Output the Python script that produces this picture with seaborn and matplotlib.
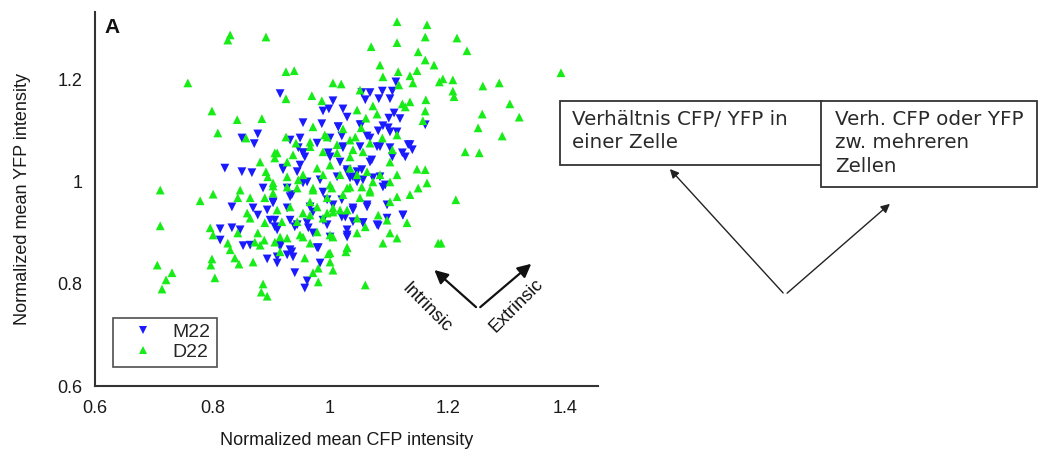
import matplotlib
matplotlib.use("Agg")
import matplotlib.pyplot as plt
import seaborn as sns
import pandas as pd
from matplotlib.patches import Rectangle

# ---------------- data ----------------
m22_x = [0.915, 0.877, 0.850, 0.871,
         1.112, 1.054, 1.068, 1.089, 1.106, 1.060, 1.083, 1.102, 1.005, 0.988, 0.998, 1.022,
         1.029, 1.109, 1.100, 1.119, 0.954, 0.986, 1.014, 1.053, 1.090, 1.082, 1.162, 0.949,
         1.000, 1.020, 1.063, 1.102, 1.133, 0.946, 0.978, 1.022, 1.051, 1.080, 1.102, 1.140,
         0.954,
         0.821, 0.850, 0.867, 0.886, 0.833, 0.869, 0.877, 0.893, 0.903, 0.927, 0.898, 0.906,
         0.813, 0.833, 0.847, 0.813, 0.852, 0.864, 0.893, 0.910, 0.915, 0.927, 0.920, 0.927,
         0.957, 1.000, 1.017, 1.068, 1.128, 0.944, 1.029, 1.046, 1.046, 1.034, 1.073, 1.090,
         0.961, 0.988, 0.935, 1.005, 1.063, 1.097, 1.124, 1.039, 1.026, 0.971, 0.944, 0.995,
         1.056, 1.080, 1.029, 1.000, 1.029, 0.978, 0.935, 0.983, 0.940, 0.961, 0.957, 0.963,
         1.014, 1.051, 1.099, 1.114, 1.136, 1.123, 1.106, 0.932, 0.954, 0.997, 1.022, 1.068,
         1.085, 1.071, 0.920, 0.949, 1.029, 1.039, 1.054, 1.056, 1.012, 0.983, 0.954, 1.085,
         1.094, 0.932, 0.966, 0.995, 1.020, 1.039, 0.903, 1.063, 0.906, 0.932, 0.961, 0.988,
         1.020, 1.039, 1.056, 1.082, 1.097, 1.124, 0.910, 0.940, 0.971, 1.029, 0.915, 0.932,
         0.980, 0.910, 0.937]
m22_y = [1.173, 1.094, 1.086, 1.075,
         1.196, 1.175, 1.175, 1.178, 1.178, 1.161, 1.163, 1.163, 1.159, 1.139, 1.143, 1.143,
         1.127, 1.135, 1.125, 1.124, 1.116, 1.114, 1.108, 1.112, 1.110, 1.100, 1.112, 1.086,
         1.086, 1.090, 1.090, 1.098, 1.073, 1.067, 1.076, 1.067, 1.069, 1.069, 1.067, 1.063,
         1.057,
         1.027, 1.020, 1.018, 0.988, 0.951, 0.949, 0.935, 0.945, 0.959, 0.949, 0.925, 0.912,
         0.908, 0.910, 0.906, 0.886, 0.875, 0.876, 0.849, 0.841, 0.876, 0.857, 1.027, 0.988,
         1.049, 1.049, 1.039, 1.039, 1.049, 1.020, 1.020, 1.020, 1.000, 1.008, 1.008, 0.990,
         1.000, 0.980, 0.975, 0.955, 0.951, 0.955, 0.935, 0.945, 0.931, 0.941, 0.916, 0.916,
         0.920, 0.916, 0.906, 0.892, 0.892, 0.871, 0.863, 0.841, 0.822, 0.806, 0.792, 0.910,
         1.108, 1.112, 1.106, 1.098, 1.073, 1.057, 1.049, 1.082, 1.057, 1.057, 1.069, 1.086,
         1.069, 1.043, 1.024, 1.033, 1.024, 1.010, 1.024, 1.004, 1.010, 1.004, 0.998, 1.010,
         0.994, 0.971, 0.951, 0.965, 0.965, 0.949, 0.961, 0.955, 0.925, 0.925, 0.920, 0.925,
         0.931, 0.922, 0.920, 0.914, 0.929, 0.935, 0.906, 0.912, 0.900, 0.896, 0.873, 0.867,
         0.871, 0.853, 0.853]

d22_x = [0.830, 0.826, 0.891, 0.758, 0.925, 0.925, 0.799, 0.842, 0.884, 0.809, 0.857, 0.925,
         0.906,
         1.114, 1.165, 1.162, 1.114, 1.070, 1.150, 1.162, 1.177, 1.085, 0.939, 1.116, 1.148,
         1.090, 1.136, 1.141, 1.186, 1.005, 1.019, 1.051, 1.117, 0.969, 0.986, 1.163, 1.073,
         1.123, 1.136, 1.128, 1.046, 1.162, 1.080, 1.061, 1.158, 0.971, 0.995, 1.022, 1.053,
         1.089, 1.114, 0.942, 0.966, 1.012, 1.034, 1.068, 0.988, 1.039, 1.106,
         1.216, 1.233, 1.192, 1.209, 1.209, 1.211, 1.260, 1.288, 1.393, 1.306, 1.259, 1.322,
         1.252, 1.293, 1.230, 1.254, 1.214, 1.189,
         0.881, 0.906, 0.927, 0.711, 0.779, 0.801, 0.847, 0.843, 0.864, 0.889, 0.903, 0.891,
         0.894, 0.927, 0.903, 0.711, 0.796, 0.801, 0.843, 0.826, 0.830, 0.859, 0.864, 0.877,
         0.872, 0.881, 0.888, 0.889, 0.918, 0.927, 0.706, 0.731, 0.721, 0.714, 0.799, 0.797,
         0.804, 0.838, 0.845, 0.869, 0.886, 0.883, 0.893, 0.915, 0.906,
         1.148, 1.162, 1.165, 1.150, 1.136, 1.114, 1.102, 1.082, 1.131, 1.097, 1.060, 1.102,
         1.114, 1.090, 1.184, 1.029, 1.027, 0.997, 0.957, 1.000, 0.980, 1.005, 0.971, 0.980,
         1.060, 1.017, 1.005, 1.046, 0.988, 0.966, 0.944, 0.949, 0.978, 1.000, 0.966, 0.995,
         1.022, 1.051, 1.068, 1.073, 1.102, 1.114, 1.085, 1.063, 1.034, 1.000, 0.978, 0.954,
         0.944, 0.971, 1.000, 1.029, 1.054, 1.102, 0.988, 1.017, 1.046,
         0.910, 0.937, 0.966, 0.991, 1.043, 1.012, 1.034, 1.056, 0.903, 0.927, 0.946, 0.971,
         1.003, 1.034, 1.068, 0.932, 0.978, 1.005, 1.029, 0.910, 0.954, 0.995, 0.915, 0.954,
         1.005, 1.046, 0.966, 1.000, 1.029]
d22_y = [1.288, 1.278, 1.284, 1.194, 1.216, 1.163, 1.139, 1.122, 1.124, 1.096, 1.086, 1.088,
         1.057,
         1.314, 1.308, 1.284, 1.273, 1.265, 1.255, 1.239, 1.229, 1.229, 1.218, 1.216, 1.218,
         1.206, 1.208, 1.194, 1.196, 1.194, 1.192, 1.180, 1.190, 1.169, 1.159, 1.161, 1.149,
         1.153, 1.157, 1.147, 1.141, 1.139, 1.133, 1.125, 1.120, 1.108, 1.088, 1.104, 1.106,
         1.086, 1.092, 1.076, 1.069, 1.073, 1.082, 1.076, 1.059, 1.063, 1.063,
         1.282, 1.257, 1.202, 1.200, 1.178, 1.167, 1.188, 1.194, 1.214, 1.153, 1.133, 1.127,
         1.106, 1.090, 1.059, 1.057, 0.965, 0.880,
         1.039, 1.047, 1.039, 0.984, 0.963, 0.976, 0.984, 0.969, 0.969, 0.969, 0.992, 1.020,
         1.010, 1.010, 0.978, 0.914, 0.910, 0.896, 0.900, 0.880, 0.867, 0.939, 0.929, 0.900,
         0.882, 0.876, 0.886, 0.920, 0.922, 0.890, 0.837, 0.822, 0.808, 0.790, 0.849, 0.837,
         0.812, 0.851, 0.839, 0.843, 0.800, 0.784, 0.776, 0.863, 0.882,
         1.025, 1.024, 0.998, 0.988, 0.975, 0.971, 0.961, 0.935, 0.920, 0.925, 0.912, 0.900,
         0.890, 0.880, 0.880, 0.871, 0.863, 0.859, 0.851, 0.843, 0.831, 0.827, 0.822, 0.804,
         0.798, 0.945, 0.941, 0.929, 0.929, 0.935, 0.922, 0.896, 0.902, 0.896, 0.961, 0.969,
         0.975, 0.969, 0.980, 1.000, 1.000, 1.014, 1.014, 1.020, 1.027, 1.033, 1.027, 1.014,
         0.988, 0.988, 0.994, 0.988, 0.990, 1.039, 1.014, 1.014, 1.014,
         1.057, 1.053, 1.078, 1.092, 1.088, 1.057, 1.049, 1.059, 0.998, 0.990, 1.004, 0.984,
         0.988, 0.990, 0.984, 0.951, 0.951, 0.949, 0.945, 0.945, 0.939, 0.939, 0.892, 0.892,
         0.892, 0.900, 0.880, 0.861, 0.871]

strains = ["M22", "D22"]
x_ticks = [0.6, 0.8, 1.0, 1.2, 1.4]
x_tick_labels = ["0.6", "0.8", "1", "1.2", "1.4"]
y_ticks = [0.6, 0.8, 1.0, 1.2]
y_tick_labels = ["0.6", "0.8", "1", "1.2"]
box_texts = ["Verhältnis CFP/ YFP in\neiner Zelle", "Verh. CFP oder YFP\nzw. mehreren\nZellen"]

df = pd.DataFrame({
    "cfp": m22_x + d22_x,
    "yfp": m22_y + d22_y,
    "strain": ["M22"] * len(m22_x) + ["D22"] * len(d22_x),
})

# ---------------- figure ----------------
sns.set_theme(style="white")
plt.rcParams["font.family"] = ["Liberation Sans", "DejaVu Sans"]

W, H = 1039, 451
fig = plt.figure(figsize=(W / 100, H / 100), dpi=100)
fig.patch.set_facecolor("white")

ax = fig.add_axes([95 / W, (H - 386) / H, 503 / W, 374 / H])
ax.set_facecolor("white")

sns.scatterplot(data=df, x="cfp", y="yfp", hue="strain", style="strain",
                hue_order=strains, style_order=strains,
                palette={"M22": "#1a1aff", "D22": "#18ec18"},
                markers={"M22": "v", "D22": "^"},
                s=40, linewidth=0, ax=ax, legend=True)

ax.set_xlim(0.6, 1.456)
ax.set_ylim(0.6, 1.333)
ax.set_xticks(x_ticks)
ax.set_xticklabels(x_tick_labels)
ax.set_yticks(y_ticks)
ax.set_yticklabels(y_tick_labels)
ax.tick_params(axis="both", direction="in", length=4, width=1, color="#333333",
               labelsize=13, labelcolor="#1a1a1a")
ax.tick_params(axis="x", pad=10)
ax.tick_params(axis="y", pad=9)
for s in ["top", "right"]:
    ax.spines[s].set_visible(False)
for s in ["left", "bottom"]:
    ax.spines[s].set_color("#333333")
    ax.spines[s].set_linewidth(1.5)

ax.set_xlabel("Normalized mean CFP intensity", fontsize=13, color="#1a1a1a", labelpad=11)
ax.set_ylabel("Normalized mean YFP intensity", fontsize=13, color="#1a1a1a", labelpad=19)

handles, labels = ax.get_legend_handles_labels()
leg = ax.legend(handles, labels, loc="lower left", bbox_to_anchor=(0.036, 0.051),
                borderaxespad=0, fancybox=False, frameon=True, fontsize=14,
                handletextpad=0.3, borderpad=0.3, labelspacing=0.12,
                handlelength=2.47, markerscale=0.9)
leg.get_frame().set_edgecolor("#222222")
leg.get_frame().set_linewidth(1.2)

ax.text(0.018, 0.985, "A", transform=ax.transAxes, fontsize=15, fontweight="bold",
        ha="left", va="top", color="#111111")

# Intrinsic / Extrinsic arrows (data coordinates)
vx, vy = 1.252, 0.751
ax.annotate("", xy=(1.174, 0.831), xytext=(vx, vy),
            arrowprops=dict(arrowstyle="-|>", color="#111111", lw=1.6, mutation_scale=20))
ax.annotate("", xy=(1.346, 0.843), xytext=(vx, vy),
            arrowprops=dict(arrowstyle="-|>", color="#111111", lw=1.6, mutation_scale=20))
ax.text(1.165, 0.753, "Intrinsic", rotation=-45, ha="center", va="center",
        fontsize=13, color="#111111", rotation_mode="anchor")
ax.text(1.318, 0.757, "Extrinsic", rotation=45, ha="center", va="center",
        fontsize=13, color="#111111", rotation_mode="anchor")

# ---------------- right-hand annotation (pixel overlay) ----------------
ov = fig.add_axes([0, 0, 1, 1], facecolor="none")
ov.set_xlim(0, W)
ov.set_ylim(H, 0)
ov.axis("off")

ov.add_patch(Rectangle((560, 101), 262, 64, fill=True, facecolor="white",
                       edgecolor="#333333", lw=1.3))
ov.add_patch(Rectangle((821, 101), 216, 86, fill=True, facecolor="white",
                       edgecolor="#333333", lw=1.3))
ov.text(572, 110, box_texts[0], family="DejaVu Sans", fontsize=14.3, va="top", ha="left",
        color="#2a2a2a", linespacing=1.3)
ov.text(835, 110, box_texts[1], family="DejaVu Sans", fontsize=14.3, va="top", ha="left",
        color="#2a2a2a", linespacing=1.3)

ov.annotate("", xy=(668, 167), xytext=(785, 295),
            arrowprops=dict(arrowstyle="-|>", color="#222222", lw=1.0, mutation_scale=13))
ov.annotate("", xy=(892, 202), xytext=(785, 295),
            arrowprops=dict(arrowstyle="-|>", color="#222222", lw=1.0, mutation_scale=13))

fig.savefig("out.png", dpi=100, facecolor="white")
